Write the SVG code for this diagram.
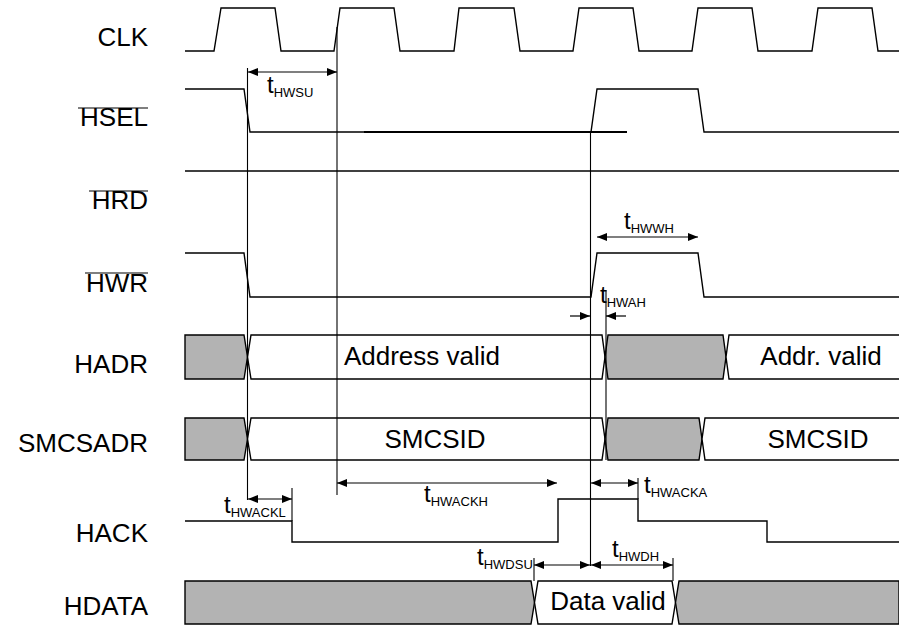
<svg xmlns="http://www.w3.org/2000/svg" width="899" height="625" viewBox="0 0 899 625">
<style>
.lbl{font-family:"Liberation Sans",Arial,sans-serif;font-size:26px;fill:#000;text-anchor:end}
.bt{font-family:"Liberation Sans",Arial,sans-serif;font-size:26px;fill:#000;text-anchor:middle}
.t{font-family:"Liberation Sans",Arial,sans-serif;font-size:24px;fill:#000}
.s{font-size:13px}
.w{fill:none;stroke:#000;stroke-width:1.4}
.g{fill:#b3b3b3;stroke:#000;stroke-width:1.4}
.bw{fill:#fff;stroke:#000;stroke-width:1.4}
.v{fill:none;stroke:#000;stroke-width:1.1}
.a{fill:none;stroke:#000;stroke-width:1.2;marker-end:url(#ah);marker-start:url(#ah)}
.a1{fill:none;stroke:#000;stroke-width:1.2;marker-end:url(#ah)}
.ol{stroke:#000;stroke-width:1.2}
</style>
<defs>
<marker id="ah" viewBox="0 0 10 8" refX="10" refY="4" markerWidth="11" markerHeight="8" markerUnits="userSpaceOnUse" orient="auto-start-reverse">
<path d="M0,0 L10,4 L0,8 Z" fill="#000"/>
</marker>
</defs>
<rect width="899" height="625" fill="#fff"/>

<g id="CLK">
<text class="lbl" x="148" y="46">CLK</text>
<path class="w" d="M185,51 H214 L221,8 H275 L281,51 H334 L340,8 H394 L400,51 H454 L459,8 H514 L520,51 H573 L579,8 H633 L639,51 H692 L698,8 H752 L758,51 H812 L818,8 H872 L878,51 H899"/>
</g>

<g id="HSEL">
<text class="lbl" x="148" y="126">HSEL</text>
<line class="ol" x1="78" y1="108" x2="148" y2="108"/>
<path class="w" d="M185,89 H244 L250,132 H591 L597,89 H698 L704,132 H899"/>
<line x1="364" y1="132" x2="627" y2="132" stroke="#000" stroke-width="1.8"/>
</g>

<g id="HRD">
<text class="lbl" x="148" y="209">HRD</text>
<line class="ol" x1="89" y1="191" x2="148" y2="191"/>
<path class="w" d="M185,171 H899"/>
</g>

<g id="HWR">
<text class="lbl" x="148" y="292">HWR</text>
<line class="ol" x1="85" y1="273" x2="148" y2="273"/>
<path class="w" d="M185,253 H244 L250,297 H591 L597,253 H698 L704,297 H899"/>
</g>

<g id="HADR">
<text class="lbl" x="148" y="373">HADR</text>
<path class="g" d="M185,335 H244 L247.5,357 L244,379 H185 Z"/>
<path class="bw" d="M251,335 H602 L605,357 L602,379 H251 L247.5,357 Z"/>
<path class="g" d="M608,335 H723 L726,357 L723,379 H608 L605,357 Z"/>
<path class="bw" d="M899,335 H729 L726,357 L729,379 H899" />
<text class="bt" x="422" y="365">Address valid</text>
<text class="bt" x="821" y="365">Addr. valid</text>
</g>

<g id="SMCSADR">
<text class="lbl" x="148" y="452">SMCSADR</text>
<path class="g" d="M185,418 H244 L247.5,439 L244,460 H185 Z"/>
<path class="bw" d="M251,418 H602 L605,439 L602,460 H251 L247.5,439 Z"/>
<path class="g" d="M608,418 H699 L702,439 L699,460 H608 L605,439 Z"/>
<path class="bw" d="M899,418 H705 L702,439 L705,460 H899"/>
<text class="bt" x="435" y="448">SMCSID</text>
<text class="bt" x="818" y="448">SMCSID</text>
</g>

<g id="HACK">
<text class="lbl" x="148" y="542">HACK</text>
<path class="w" d="M185,521 H292 V542 H558 V499 H638 V521 H767 V542 H899"/>
</g>

<g id="HDATA">
<text class="lbl" x="148" y="615">HDATA</text>
<path class="g" d="M185,581 H531 L534.5,602.5 L531,624 H185 Z"/>
<path class="bw" d="M538,581 H672 L675.5,602.5 L672,624 H538 L534.5,602.5 Z"/>
<path class="g" d="M899,581 H679 L675.5,602.5 L679,624 H899 Z"/>
<text class="bt" x="608" y="610">Data valid</text>
</g>

<g id="connectors">
<line class="v" x1="247.5" y1="68" x2="247.5" y2="500"/>
<line class="v" x1="337" y1="27" x2="337" y2="495"/>
<line class="v" x1="590.5" y1="131" x2="590.5" y2="566"/>
<line class="v" x1="606" y1="290" x2="606" y2="460"/>
<line class="v" x1="292" y1="488" x2="292" y2="521"/>
<line class="v" x1="638" y1="478" x2="638" y2="499"/>
<line class="v" x1="534" y1="558" x2="534" y2="581"/>
<line class="v" x1="673" y1="558" x2="673" y2="581"/>

<path class="a" d="M248,72 H337"/>
<path class="a" d="M597,237 H698"/>
<path class="a1" d="M570,316 H590"/>
<path class="a1" d="M626,316 H606"/>
<path class="a" d="M248,499 H292"/>
<path class="a" d="M337,483 H557"/>
<path class="a" d="M591,483 H638"/>
<path class="a" d="M534,565 H590"/>
<path class="a" d="M591,565 H673"/>

<text class="t" x="267" y="93">t<tspan class="s" dy="4">HWSU</tspan></text>
<text class="t" x="624" y="229">t<tspan class="s" dy="4">HWWH</tspan></text>
<text class="t" x="600" y="303">t<tspan class="s" dy="4">HWAH</tspan></text>
<text class="t" x="224" y="513">t<tspan class="s" dy="4">HWACKL</tspan></text>
<text class="t" x="424" y="502">t<tspan class="s" dy="4">HWACKH</tspan></text>
<text class="t" x="644" y="493">t<tspan class="s" dy="4">HWACKA</tspan></text>
<text class="t" x="477" y="565">t<tspan class="s" dy="4">HWDSU</tspan></text>
<text class="t" x="612" y="557">t<tspan class="s" dy="4">HWDH</tspan></text>
</g>
</svg>
